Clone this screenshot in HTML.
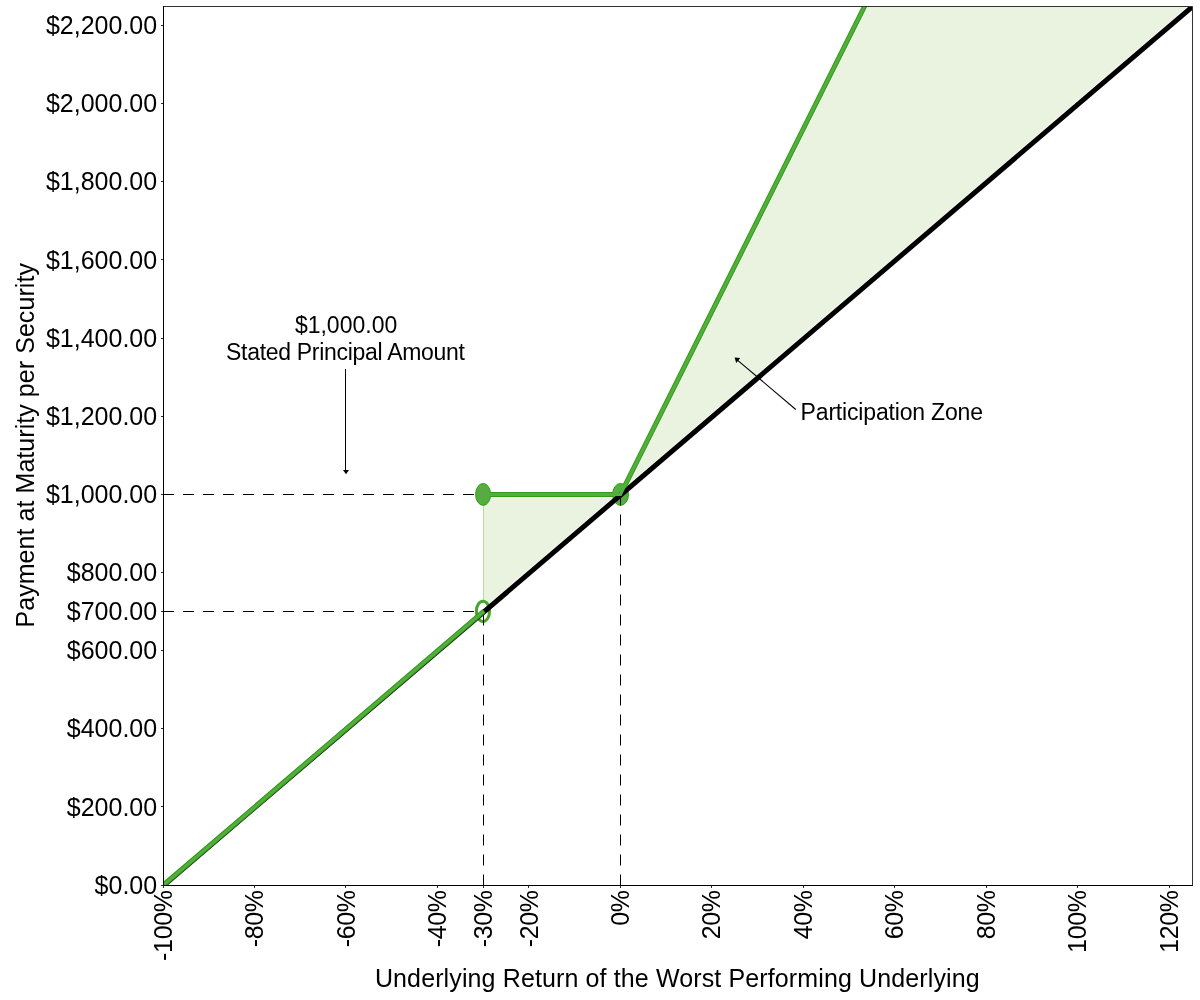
<!DOCTYPE html>
<html lang="en"><head><meta charset="utf-8"><title>Payment at Maturity per Security</title>
<style>html,body{margin:0;padding:0;background:#fff;}body{width:1200px;height:1000px;overflow:hidden;}svg{display:block;}text{font-family:"Liberation Sans", Arial, Helvetica, sans-serif;fill:#000;}</style>
</head><body>
<svg width="1200" height="1000" viewBox="0 0 1200 1000">
<rect x="0" y="0" width="1200" height="1000" fill="#fff"/>
<polygon points="483.18,494.40 620.38,494.40 483.18,611.61" fill="#eaf3e0"/>
<polygon points="620.38,494.40 864.50,6.50 1192.50,6.50" fill="#eaf3e0"/>
<clipPath id="pc"><rect x="163.50" y="6.50" width="1029.00" height="879.00"/></clipPath>
<g clip-path="url(#pc)" stroke="#fff" stroke-width="6.4" fill="none">
<line x1="483.18" y1="612.51" x2="1214.91" y2="-12.61"/>
<polyline points="483.18,494.40 620.53,494.40 869.50,-3.50"/>
</g>
<line x1="483.5" y1="494.40" x2="483.5" y2="611.61" stroke="#b4dca5" stroke-width="1"/>
<ellipse cx="483.10" cy="494.40" rx="7.50" ry="10.95" fill="#55ad40" stroke="#2e9e12" stroke-width="1"/>
<ellipse cx="620.55" cy="494.40" rx="7.95" ry="10.95" fill="#55ad40" stroke="#2e9e12" stroke-width="1"/>
<ellipse cx="482.95" cy="611.31" rx="6.60" ry="10.15" fill="#fff" stroke="#48a52b" stroke-width="3"/>
<clipPath id="ne"><path clip-rule="evenodd" d="M0,0H1200V1000H0Z M475.60,494.40 a7.50,10.95 0 1,0 15.00,0 a7.50,10.95 0 1,0 -15.00,0Z M612.60,494.40 a7.95,10.95 0 1,0 15.90,0 a7.95,10.95 0 1,0 -15.90,0Z"/></clipPath>
<g clip-path="url(#pc)">
<line x1="140.18" y1="905.53" x2="1214.91" y2="-12.61" stroke="#000" stroke-width="5"/>
</g>
<g stroke="#000" stroke-width="1" stroke-dasharray="11 9" fill="none">
<line x1="163" y1="494.5" x2="483.0" y2="494.5"/>
<line x1="163" y1="611.5" x2="483.0" y2="611.5"/>
<line x1="483.5" y1="885.5" x2="483.5" y2="611.5"/>
<line x1="620.5" y1="885.5" x2="620.5" y2="494.5"/>
</g>
<g clip-path="url(#pc)" fill="none" stroke-linejoin="miter">
<g stroke="#2e9e12" stroke-width="5">
<line x1="158.18" y1="889.51" x2="483.98" y2="611.16"/>
<g clip-path="url(#ne)"><polyline points="483.18,494.40 620.53,494.40 869.50,-3.50"/></g>
</g>
<g stroke="#55ad40" stroke-width="3">
<line x1="158.18" y1="889.51" x2="483.98" y2="611.16"/>
<polyline points="483.18,494.40 620.53,494.40 869.50,-3.50"/>
</g>
</g>
<polyline points="163.5,6.5 1192.5,6.5 1192.5,885.5" fill="none" stroke="#333" stroke-width="1"/>
<polyline points="163.5,6.0 163.5,885.5 1193.0,885.5" fill="none" stroke="#000" stroke-width="1"/>
<g stroke="#2b2b2b" stroke-width="1">
<line x1="161" y1="885.5" x2="163" y2="885.5"/>
<line x1="161" y1="806.5" x2="163" y2="806.5"/>
<line x1="161" y1="728.5" x2="163" y2="728.5"/>
<line x1="161" y1="650.5" x2="163" y2="650.5"/>
<line x1="161" y1="611.5" x2="163" y2="611.5"/>
<line x1="161" y1="572.5" x2="163" y2="572.5"/>
<line x1="161" y1="494.5" x2="163" y2="494.5"/>
<line x1="161" y1="416.5" x2="163" y2="416.5"/>
<line x1="161" y1="338.5" x2="163" y2="338.5"/>
<line x1="161" y1="259.5" x2="163" y2="259.5"/>
<line x1="161" y1="181.5" x2="163" y2="181.5"/>
<line x1="161" y1="103.5" x2="163" y2="103.5"/>
<line x1="161" y1="25.5" x2="163" y2="25.5"/>
<line x1="163.5" y1="886" x2="163.5" y2="888"/>
<line x1="254.5" y1="886" x2="254.5" y2="888"/>
<line x1="345.5" y1="886" x2="345.5" y2="888"/>
<line x1="437.5" y1="886" x2="437.5" y2="888"/>
<line x1="483.5" y1="886" x2="483.5" y2="888"/>
<line x1="528.5" y1="886" x2="528.5" y2="888"/>
<line x1="620.5" y1="886" x2="620.5" y2="888"/>
<line x1="711.5" y1="886" x2="711.5" y2="888"/>
<line x1="803.5" y1="886" x2="803.5" y2="888"/>
<line x1="894.5" y1="886" x2="894.5" y2="888"/>
<line x1="986.5" y1="886" x2="986.5" y2="888"/>
<line x1="1077.5" y1="886" x2="1077.5" y2="888"/>
<line x1="1169.5" y1="886" x2="1169.5" y2="888"/>
</g>
<g font-size="25" text-anchor="end">
<text x="157.15" y="894">$0.00</text>
<text x="157.15" y="816">$200.00</text>
<text x="157.15" y="737">$400.00</text>
<text x="157.15" y="659">$600.00</text>
<text x="157.15" y="620">$700.00</text>
<text x="157.15" y="581">$800.00</text>
<text x="157.15" y="503">$1,000.00</text>
<text x="157.15" y="425">$1,200.00</text>
<text x="157.15" y="347">$1,400.00</text>
<text x="157.15" y="269">$1,600.00</text>
<text x="157.15" y="190">$1,800.00</text>
<text x="157.15" y="112">$2,000.00</text>
<text x="157.15" y="34">$2,200.00</text>
<text transform="translate(172,890.2) rotate(-90)" letter-spacing="-0.3">-100%</text>
<text transform="translate(263,890.2) rotate(-90)" letter-spacing="-0.3">-80%</text>
<text transform="translate(355,890.2) rotate(-90)" letter-spacing="-0.3">-60%</text>
<text transform="translate(446,890.2) rotate(-90)" letter-spacing="-0.3">-40%</text>
<text transform="translate(492,890.2) rotate(-90)" letter-spacing="-0.3">-30%</text>
<text transform="translate(538,890.2) rotate(-90)" letter-spacing="-0.3">-20%</text>
<text transform="translate(629,890.2) rotate(-90)" letter-spacing="-0.3">0%</text>
<text transform="translate(720,890.2) rotate(-90)" letter-spacing="-0.3">20%</text>
<text transform="translate(812,890.2) rotate(-90)" letter-spacing="-0.3">40%</text>
<text transform="translate(903,890.2) rotate(-90)" letter-spacing="-0.3">60%</text>
<text transform="translate(995,890.2) rotate(-90)" letter-spacing="-0.3">80%</text>
<text transform="translate(1086,890.2) rotate(-90)" letter-spacing="-0.3">100%</text>
<text transform="translate(1178,890.2) rotate(-90)" letter-spacing="-0.3">120%</text>
</g>
<text font-size="25" transform="translate(34,627.5) rotate(-90)" textLength="364.4" lengthAdjust="spacing">Payment at Maturity per Security</text>
<text font-size="25" x="374.9" y="987" textLength="604.8" lengthAdjust="spacing">Underlying Return of the Worst Performing Underlying</text>
<text font-size="23" x="294.9" y="332.5">$1,000.00</text>
<text font-size="23" x="226" y="360" textLength="239" lengthAdjust="spacing">Stated Principal Amount</text>
<line x1="345.5" y1="369" x2="345.5" y2="471" stroke="#000" stroke-width="1"/>
<polygon points="343,470 349,470 346,474.3" fill="#000"/>
<text font-size="23" x="800.6" y="419.5" textLength="182.4" lengthAdjust="spacing">Participation Zone</text>
<line x1="795.8" y1="409.5" x2="736.5" y2="359.3" stroke="#000" stroke-width="1.1"/>
<polygon points="734.6,357.6 740.2,358 736.2,363" fill="#000"/>
</svg></body></html>
